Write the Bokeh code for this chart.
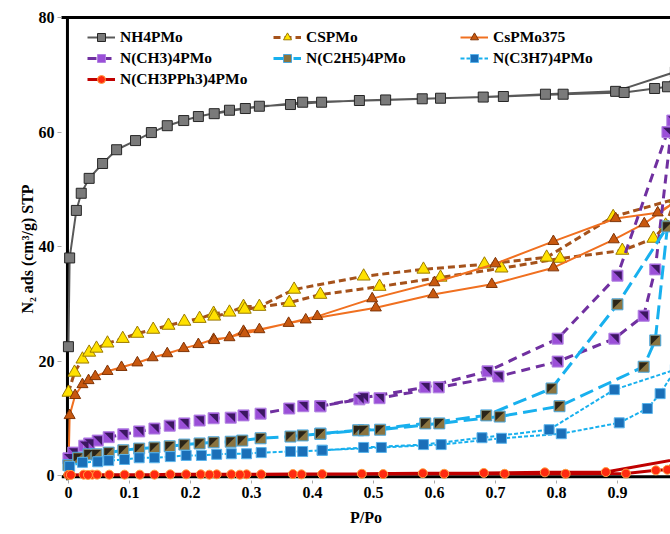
from bokeh.plotting import figure
from bokeh.models import Range1d, LinearAxis, Legend, LegendItem, FixedTicker, ColumnDataSource, Span
from bokeh.embed import file_html
from bokeh.resources import INLINE

# ---------------- data ----------------
x_ticks = [0, 0.1, 0.2, 0.3, 0.4, 0.5, 0.6, 0.7, 0.8, 0.9]
x_tick_labels = ["0", "0.1", "0.2", "0.3", "0.4", "0.5", "0.6", "0.7", "0.8", "0.9"]
y_ticks = [0, 20, 40, 60, 80]

names = ["NH4PMo", "CSPMo", "CsPMo375", "N(CH3)4PMo", "N(C2H5)4PMo",
         "N(C3H7)4PMo", "N(CH3PPh3)4PMo"]

# NH4PMo
nh4_ads_p = [0.0, 0.002, 0.013, 0.021, 0.034, 0.056, 0.079, 0.110, 0.136, 0.162, 0.189,
             0.213, 0.264, 0.313, 0.364, 0.415, 0.477, 0.58, 0.68, 0.782, 0.897, 0.995]
nh4_ads_v = [22.5, 38.0, 46.3, 49.3, 51.9, 54.5, 56.9, 58.5, 59.9, 61.1, 62.0,
             62.7, 63.8, 64.5, 64.8, 65.2, 65.5, 65.8, 66.1, 66.6, 67.1, 70.5]
nh4_des_p = [0.982, 0.961, 0.911, 0.811, 0.713, 0.61, 0.52, 0.384, 0.29, 0.239]
nh4_des_v = [67.9, 67.6, 66.9, 66.6, 66.2, 65.9, 65.6, 65.2, 64.1, 63.2]

# CSPMo
cs_ads_p = [0.0, 0.01, 0.023, 0.034, 0.046, 0.064, 0.089, 0.113, 0.139, 0.164, 0.19, 0.215,
            0.238, 0.264, 0.287, 0.313, 0.37, 0.484, 0.582, 0.682, 0.784, 0.893, 0.995]
cs_ads_v = [14.5, 18.0, 20.3, 21.5, 22.2, 23.1, 23.9, 24.8, 25.5, 26.2, 26.9, 27.4,
            28.3, 28.5, 29.5, 29.5, 32.5, 34.8, 36.0, 36.9, 38.1, 45.2, 48.3]
cs_des_p = [0.979, 0.959, 0.908, 0.806, 0.71, 0.61, 0.51, 0.413, 0.362, 0.289, 0.239]
cs_des_v = [43.7, 41.4, 39.3, 37.9, 36.2, 34.6, 33.0, 31.6, 30.2, 29.0, 27.8]

# CsPMo375
c375_ads_p = [0.0, 0.002, 0.011, 0.023, 0.033, 0.044, 0.064, 0.087, 0.113, 0.138, 0.162, 0.189,
              0.213, 0.238, 0.264, 0.287, 0.313, 0.361, 0.389, 0.504, 0.598, 0.694, 0.795,
              0.894, 0.944, 0.995]
c375_ads_v = [0.5, 10.5, 14.0, 15.9, 16.6, 17.3, 18.2, 18.9, 19.7, 20.6, 21.3, 22.2,
              22.9, 23.8, 24.1, 25.2, 25.5, 26.6, 27.2, 29.3, 31.6, 33.4, 36.3,
              41.2, 44.0, 47.8]
c375_des_p = [0.966, 0.897, 0.795, 0.70, 0.60, 0.498, 0.408, 0.289, 0.239]
c375_des_v = [45.9, 44.9, 40.9, 37.0, 33.7, 30.9, 27.8, 24.8, 23.6]

# N(CH3)4PMo
me_ads_p = [0.0, 0.008, 0.026, 0.034, 0.048, 0.066, 0.09, 0.116, 0.141, 0.166, 0.19, 0.215,
            0.238, 0.266, 0.287, 0.315, 0.362, 0.385, 0.413, 0.477, 0.51, 0.607, 0.705,
            0.802, 0.895, 0.943, 0.962, 0.99]
me_ads_v = [3.0, 4.0, 5.2, 5.6, 6.1, 6.7, 7.2, 7.7, 8.2, 8.7, 9.1, 9.6,
            10.0, 10.1, 10.5, 10.8, 11.7, 12.1, 12.1, 13.3, 13.5, 15.4, 17.3,
            19.9, 23.9, 27.9, 36.0, 62.0]
me_des_p = [0.982, 0.9, 0.802, 0.687, 0.585, 0.484, 0.413]
me_des_v = [60.0, 34.9, 23.9, 18.2, 15.4, 13.6, 12.1]

# N(C2H5)4PMo
et_ads_p = [0.0, 0.016, 0.033, 0.046, 0.066, 0.09, 0.116, 0.141, 0.166, 0.19, 0.215, 0.238,
            0.266, 0.285, 0.315, 0.364, 0.384, 0.413, 0.475, 0.511, 0.608, 0.707, 0.805,
            0.943, 0.962, 0.982]
et_ads_v = [1.8, 3.1, 3.7, 3.7, 4.0, 4.4, 4.7, 4.9, 5.1, 5.4, 5.6, 5.8,
            5.9, 6.1, 6.5, 6.8, 7.0, 7.3, 7.9, 8.0, 9.1, 10.3, 12.1,
            19.0, 23.6, 43.5]
et_des_p = [0.9, 0.792, 0.685, 0.585, 0.484, 0.413]
et_des_v = [29.9, 15.2, 10.5, 9.1, 7.9, 7.3]

# N(C3H7)4PMo
pr_ads_p = [0.002, 0.023, 0.048, 0.066, 0.092, 0.116, 0.141, 0.167, 0.193, 0.218, 0.243,
            0.267, 0.292, 0.316, 0.364, 0.384, 0.416, 0.513, 0.611, 0.71, 0.808, 0.903,
            0.949, 0.97, 0.995]
pr_ads_v = [1.6, 2.3, 2.4, 2.6, 2.8, 3.1, 3.1, 3.3, 3.5, 3.5, 3.7,
            3.8, 3.8, 4.0, 4.2, 4.2, 4.4, 4.9, 5.4, 6.5, 7.3, 9.2,
            11.7, 14.3, 18.5]
pr_des_p = [0.895, 0.788, 0.678, 0.582, 0.484, 0.416]
pr_des_v = [15.0, 8.0, 6.6, 5.4, 4.9, 4.4]

# N(CH3PPh3)4PMo
ph_ads_p = [0.0, 0.004, 0.025, 0.039, 0.047, 0.067, 0.092, 0.117, 0.141, 0.167, 0.193, 0.217,
            0.243, 0.267, 0.292, 0.316, 0.368, 0.416, 0.481, 0.581, 0.681, 0.781, 0.881, 0.995]
ph_ads_v = [0.1, 0.1, 0.15, 0.15, 0.15, 0.15, 0.15, 0.15, 0.15, 0.2, 0.2, 0.2,
            0.2, 0.2, 0.2, 0.2, 0.25, 0.25, 0.3, 0.4, 0.45, 0.55, 0.6, 2.8]
ph_des_p = [0.982, 0.963, 0.914, 0.815, 0.715, 0.616, 0.516, 0.382, 0.281, 0.231, 0.032]
ph_des_v = [1.0, 0.9, 0.35, 0.3, 0.3, 0.3, 0.25, 0.2, 0.15, 0.15, 0.1]

# ---------------- figure ----------------
FONT = "Liberation Serif"
W, H = 670, 534
ML, MR, MT, MB = 61, 0, 17, 54
PX_X = 610.0           # pixels per unit of P/Po
PX_Y = 458.0 / 80.0    # pixels per unit of volume
X1 = 0.987
X0 = X1 - (W - ML - MR) / PX_X
Y1 = 80
Y0 = Y1 - (H - MT - MB) / PX_Y

p = figure(width=W, height=H, output_backend="svg", toolbar_location=None,
           x_range=Range1d(X0, X1), y_range=Range1d(Y0, Y1),
           min_border_left=ML, min_border_right=MR, min_border_top=MT, min_border_bottom=MB)
p.outline_line_color = None
p.xgrid.visible = False
p.ygrid.visible = False
p.background_fill_color = "white"
p.border_fill_color = "white"

# axis lines drawn as spans (so markers at the axes are not clipped)
p.add_layout(Span(location=-0.0016, dimension="height", line_color="black", line_width=3, level="underlay"))
p.add_layout(Span(location=-0.2, dimension="width", line_color="black", line_width=3, level="underlay"))


def series(ads_p, ads_v, des_p, des_v, line_kw, mk_kw, tri=None):
    xs = list(ads_p) + list(des_p)
    ys = list(ads_v) + list(des_v)
    src = ColumnDataSource(dict(x=xs, y=ys))
    l = p.line("x", "y", source=src, **line_kw)
    s = p.scatter("x", "y", source=src, **mk_kw)
    if tri is not None:
        color, corner = tri
        hx = 4.3 / PX_X
        hy = 4.3 / PX_Y
        txs, tys = [], []
        for x, y in zip(xs, ys):
            if corner == "ur":
                txs.append([x - hx, x + hx, x + hx])
                tys.append([y + hy, y + hy, y - hy])
            else:
                txs.append([x - hx, x + hx, x - hx])
                tys.append([y + hy, y + hy, y - hy])
        p.patches(txs, tys, fill_color=color, line_color=None)
    return [l, s]


r_nh4 = series(nh4_ads_p, nh4_ads_v, nh4_des_p, nh4_des_v,
               dict(line_color="#595959", line_width=2),
               dict(marker="square", size=10, fill_color="#7a7a7a", line_color="#262626", line_width=1))
r_cs = series(cs_ads_p, cs_ads_v, cs_des_p, cs_des_v,
              dict(line_color="#a5521b", line_width=3, line_dash="7 4"),
              dict(marker="triangle", size=13, fill_color="#ffe100", line_color="#9c7a00", line_width=1))
r_375 = series(c375_ads_p, c375_ads_v, c375_des_p, c375_des_v,
               dict(line_color="#f07020", line_width=2),
               dict(marker="triangle", size=11, fill_color="#c8580f", line_color="#7f3508", line_width=1))
r_me = series(me_ads_p, me_ads_v, me_des_p, me_des_v,
              dict(line_color="#7030a0", line_width=3, line_dash="9 6"),
              dict(marker="square", size=11, fill_color="#9b4fd8", line_color="#b080e0", line_width=1),
              tri=("#3b1760", "ur"))
r_et = series(et_ads_p, et_ads_v, et_des_p, et_des_v,
              dict(line_color="#18b0ee", line_width=3, line_dash="14 6"),
              dict(marker="square", size=11, fill_color="#8a7440", line_color="#4aa8e0", line_width=1),
              tri=("#2a2418", "ul"))
r_pr = series(pr_ads_p, pr_ads_v, pr_des_p, pr_des_v,
              dict(line_color="#18b0ee", line_width=2, line_dash="4 2"),
              dict(marker="square", size=10, fill_color="#1a6fb8", line_color="#5ab4ec", line_width=1))
r_ph = series(ph_ads_p, ph_ads_v, ph_des_p, ph_des_v,
              dict(line_color="#c00000", line_width=3),
              dict(marker="circle", size=9, fill_color="#ff2a10", line_color="#ffa040", line_width=1))

# ---------------- axes ----------------
for ax in (p.xaxis[0], p.yaxis[0]):
    ax.axis_line_color = None
    ax.major_tick_line_color = "#aaaaaa"
    ax.major_tick_in = 0
    ax.minor_tick_line_color = None
    ax.major_label_text_font = FONT
    ax.major_label_text_font_style = "bold"
    ax.major_label_text_font_size = "16px"
    ax.major_label_text_color = "black"
    ax.axis_label_text_font = FONT
    ax.axis_label_text_font_style = "bold"
    ax.axis_label_text_font_size = "16px"
    ax.axis_label_text_color = "black"

p.xaxis.ticker = FixedTicker(ticks=x_ticks)
p.xaxis.major_label_overrides = {t: s for t, s in zip(x_ticks, x_tick_labels)}
p.xaxis.axis_label = "P/Po"
p.xaxis.major_tick_out = 3
p.xaxis.major_label_standoff = 3
p.xaxis.axis_label_standoff = 8

p.yaxis.ticker = FixedTicker(ticks=y_ticks)
p.yaxis.axis_label = "N\u2082 ads (cm\u00b3/g) STP"
p.yaxis.major_tick_out = 4
p.yaxis.major_label_standoff = 3
p.yaxis.axis_label_standoff = 0

top = LinearAxis(major_tick_in=0, major_tick_out=0, minor_tick_in=0, minor_tick_out=0,
                 major_label_text_font_size="0px", axis_line_width=3, axis_line_color="black",
                 major_label_standoff=0)
top.ticker = FixedTicker(ticks=[])
p.add_layout(top, "above")

# ---------------- legends ----------------
def make_legend(items, loc):
    lg = Legend(items=items, location=loc, orientation="vertical")
    lg.border_line_color = None
    lg.background_fill_alpha = 0
    lg.padding = 0
    lg.margin = 0
    lg.spacing = 1
    lg.glyph_height = 20
    lg.glyph_width = 28
    lg.label_height = 20
    lg.label_standoff = 5
    lg.label_text_font = FONT
    lg.label_text_font_style = "bold"
    lg.label_text_font_size = "15.5px"
    lg.label_text_color = "black"
    p.add_layout(lg)
    return lg

make_legend([LegendItem(label=names[0], renderers=r_nh4),
             LegendItem(label=names[3], renderers=r_me),
             LegendItem(label=names[6], renderers=r_ph)], (26, 391))
make_legend([LegendItem(label=names[1], renderers=r_cs),
             LegendItem(label=names[4], renderers=r_et)], (212, 412))
make_legend([LegendItem(label=names[2], renderers=r_375),
             LegendItem(label=names[5], renderers=r_pr)], (399, 412))

open("out.html", "w").write(file_html(p, INLINE))
